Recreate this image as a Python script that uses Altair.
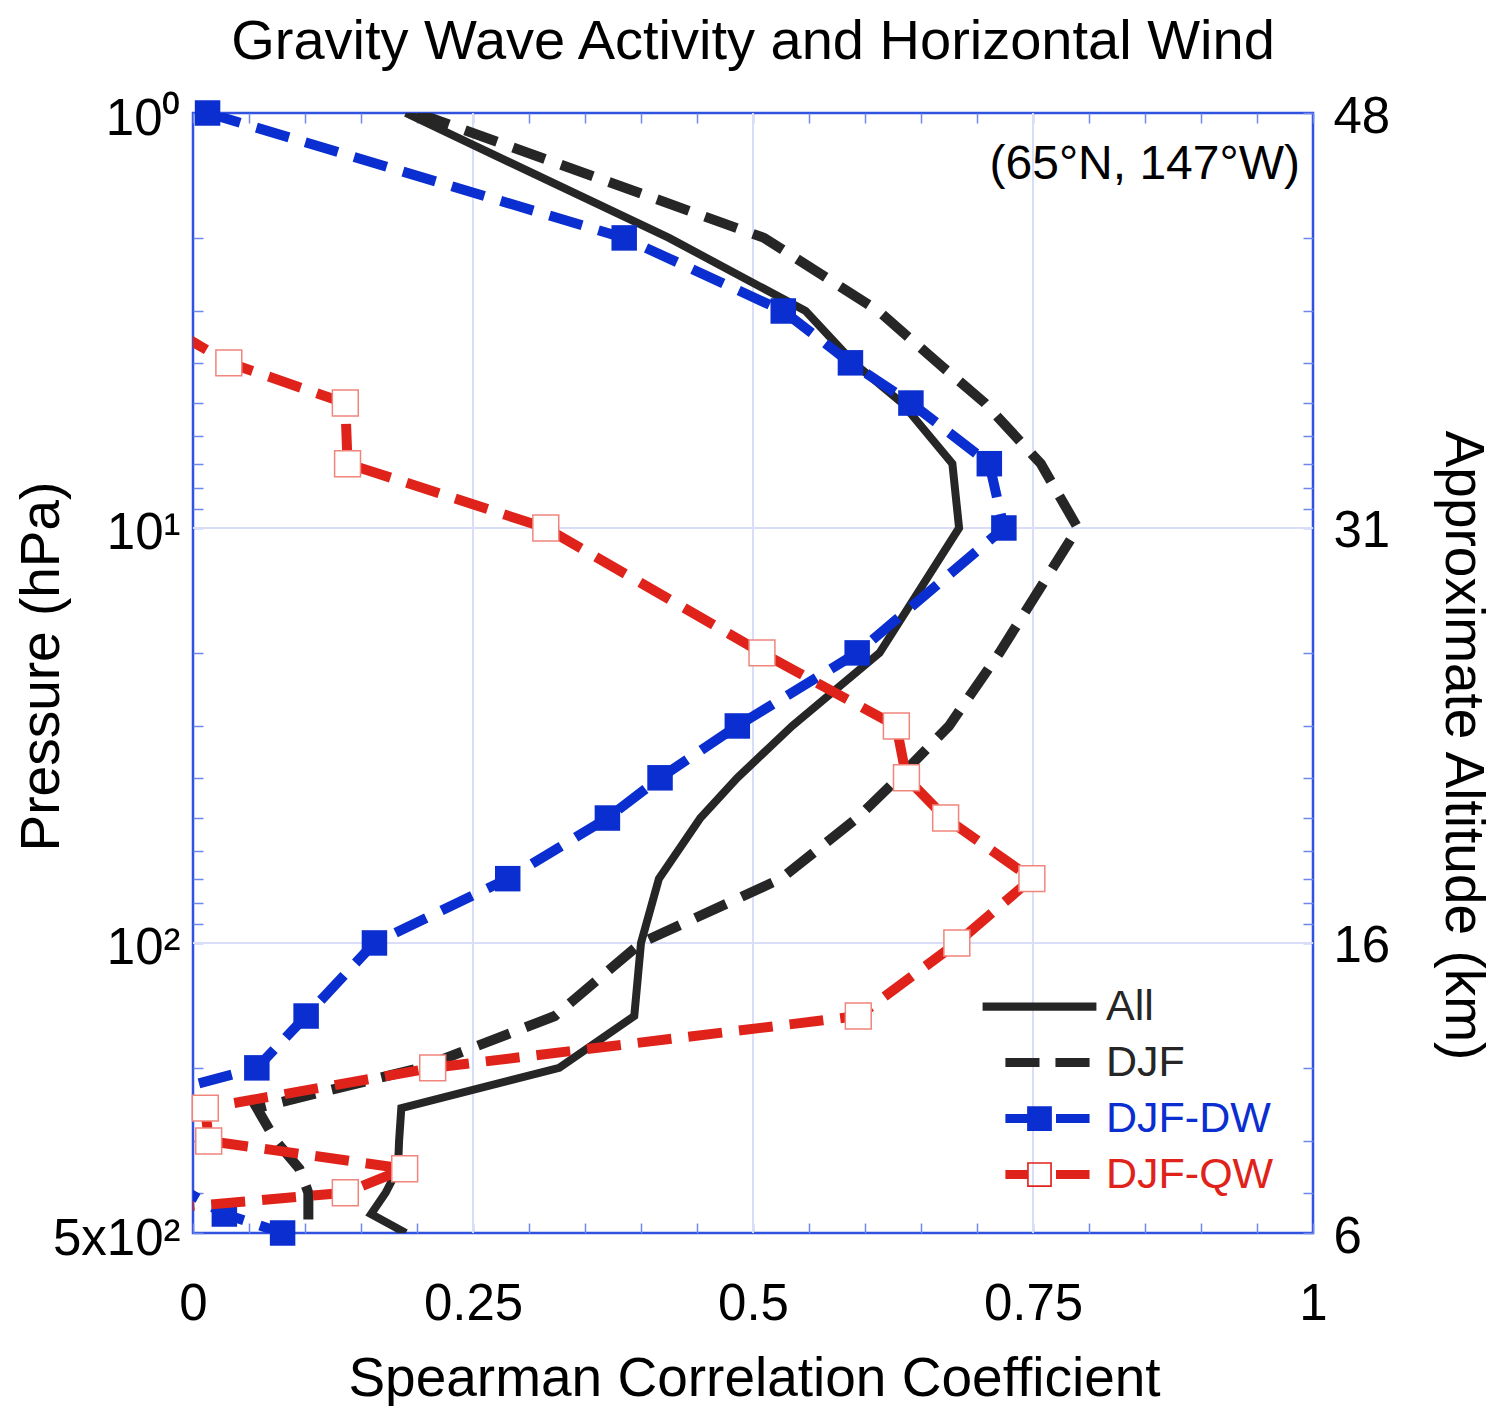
import altair as alt
import pandas as pd

# pressure levels (hPa) and Spearman coefficients
pressure = [1, 2, 3, 4, 5, 7, 10, 20, 30, 40, 50, 70, 100, 150, 200, 250, 300, 350, 400, 450, 500]
r_all = [0.19, 0.425, 0.547, 0.59, 0.633, 0.678, 0.684, 0.613, 0.535, 0.486, 0.453, 0.416, 0.40,
         0.394, 0.327, 0.186, 0.184, 0.183, 0.172, 0.159, 0.19]
r_djf = [0.20, 0.51, 0.612, 0.665, 0.707, 0.757, 0.79, 0.72, 0.675, 0.63, 0.593, 0.525, 0.40,
         0.323, 0.203, 0.057, 0.074, 0.095, 0.103, 0.103, 0.103]
r_djf_dw = [0.013, 0.385, 0.527, 0.587, 0.641, 0.711, 0.724, 0.593, 0.486, 0.417, 0.37, 0.281, 0.162,
            0.101, 0.057, -0.077, -0.12, -0.08, -0.004, 0.028, 0.08]
r_djf_qw = [-0.2, -0.12, -0.047, 0.032, 0.136, 0.138, 0.315, 0.508, 0.628, 0.637, 0.672, 0.749, 0.682,
            0.594, 0.214, 0.011, 0.014, 0.189, 0.136, -0.083, -0.05]

series_names = ["All", "DJF", "DJF-DW", "DJF-QW"]

x_ticks = [i / 20 for i in range(21)]
x_major = [0, 0.25, 0.5, 0.75, 1]
x_major_text = ["0", "0.25", "0.5", "0.75", "1"]
y_ticks = [1, 2, 3, 4, 5, 6, 7, 8, 9, 10, 20, 30, 40, 50, 60, 70, 80, 90, 100, 200, 300, 400, 500]
y_major = [1, 10, 100, 500]
y_major_text = ["10⁰", "10¹", "10²", "5x10²"]
altitude_text = ["48", "31", "16", "6"]
x_grid = [0.25, 0.5, 0.75]
y_grid = [10, 100]

BLACK = "#262626"
BLUE = "#0a2ecf"
RED = "#e0231a"
RED_EDGE = "#f0857c"
FRAME = "#2f52e0"
GRID = "#d9ddf7"
TICK = "#6f86ea"
FONT = "Liberation Sans"

rows = []
for name, vals in zip(series_names, [r_all, r_djf, r_djf_dw, r_djf_qw]):
    for p, r in zip(pressure, vals):
        rows.append({"series": name, "pressure": p, "r": r})
df = pd.DataFrame(rows)


def label_expr(values, texts):
    parts = ["datum.value == %s ? '%s'" % (v, t) for v, t in zip(values, texts)]
    return " : ".join(parts) + " : ''"


x_scale = alt.Scale(domain=[0, 1], nice=False, zero=False)
y_scale = alt.Scale(type="log", domain=[1, 500], nice=False, reverse=True)
inward = alt.ExprRef(expr="-10")

common_axis = dict(domain=False, grid=False, tickSize=inward, tickColor=TICK, tickWidth=1.5,
                   labelFont=FONT, labelFontSize=51, labelColor="black", labelOverlap=False,
                   titleFont=FONT, titleFontSize=55, titleColor="black", titleFontWeight="normal",
                   titleBaseline="alphabetic")

bottom_axis = alt.Axis(orient="bottom", values=x_ticks, labelExpr=label_expr(x_major, x_major_text),
                       labelFlush=False, labelPadding=56, title="Spearman Correlation Coefficient",
                       titleX=561, titleY=162, **common_axis)
left_axis = alt.Axis(orient="left", values=y_ticks, labelExpr=label_expr(y_major, y_major_text),
                     labelPadding=23, labelOffset=6, title="Pressure (hPa)", titleAngle=270,
                     titleX=-135, titleY=553, **common_axis)
top_axis = alt.Axis(orient="top", values=x_ticks, labels=False, title=None, domain=False, grid=False,
                    tickSize=inward, tickColor=TICK, tickWidth=1.5)
right_axis = alt.Axis(orient="right", values=y_ticks, labelExpr=label_expr(y_major, altitude_text),
                      labelPadding=30, labelOffset=4, title="Approximate Altitude (km)", titleAngle=90,
                      titleX=132, titleY=632, **common_axis)

# grid lines + top/right axes (independent scales with identical domains)
vgrid = alt.Chart(pd.DataFrame({"xg": x_grid})).mark_rule(color=GRID, strokeWidth=2).encode(
    x=alt.X("xg:Q", scale=x_scale, axis=top_axis))
hgrid = alt.Chart(pd.DataFrame({"pg": y_grid})).mark_rule(color=GRID, strokeWidth=2).encode(
    y=alt.Y("pg:Q", scale=y_scale, axis=right_axis))
frame_layer = alt.layer(vgrid, hgrid)

base = alt.Chart(df).encode(
    x=alt.X("r:Q", scale=x_scale, axis=bottom_axis),
    y=alt.Y("pressure:Q", scale=y_scale, axis=left_axis),
    order=alt.Order("pressure:Q"),
)


def line(name, color, width, dash=None):
    kw = dict(color=color, strokeWidth=width, clip=True)
    if dash:
        kw["strokeDash"] = dash
    return base.transform_filter(alt.datum.series == name).mark_line(**kw)


dash = [34, 17]
l_djf = line("DJF", BLACK, 10, dash)
l_all = line("All", BLACK, 8)
l_dw = line("DJF-DW", BLUE, 10, dash)
l_qw = line("DJF-QW", RED, 10, dash)

p_dw = base.transform_filter((alt.datum.series == "DJF-DW") & (alt.datum.r >= 0)).mark_point(
    shape="square", size=650, filled=True, color=BLUE, opacity=1)
p_qw = base.transform_filter((alt.datum.series == "DJF-QW") & (alt.datum.r >= 0)).mark_point(
    shape="square", size=670, filled=True, fill="white", stroke=RED_EDGE, strokeWidth=1.5, opacity=1)

# legend symbols: line segment(s) with optional square marker
legend_paths = [
    "M-2.07,-0.15H2.07V0.15H-2.07Z",
    "M-1.24,-0.16H0V0.16H-1.24Z M0.58,-0.16H1.82V0.16H0.58Z",
    "M-1.24,-0.16H-0.45V0.16H-1.24Z M-0.45,-0.45H0.45V0.45H-0.45Z M0.6,-0.16H1.82V0.16H0.6Z",
    "M-1.24,-0.16H-0.45V0.16H-1.24Z M-0.45,-0.45H0.45V0.45H-0.45Z M-0.39,-0.39V0.39H0.39V-0.39Z "
    "M0.6,-0.16H1.82V0.16H0.6Z",
]
legend_fills = [BLACK, BLACK, BLUE, RED]
legend_label_color = ("datum.value == 'DJF-DW' ? '%s' : datum.value == 'DJF-QW' ? '%s' : '%s'"
                      % (BLUE, RED, BLACK))

legend_layer = alt.Chart(pd.DataFrame({"series": series_names})).mark_point(
    filled=True, opacity=0, size=3025, strokeWidth=0).encode(
    shape=alt.Shape("series:N", scale=alt.Scale(domain=series_names, range=legend_paths),
                    legend=alt.Legend(title=None, orient="none", legendX=819, legendY=866,
                                      labelFont=FONT, labelFontSize=43,
                                      labelColor=alt.ExprRef(expr=legend_label_color),
                                      symbolOpacity=1, symbolSize=3025, symbolStrokeWidth=0,
                                      labelOffset=39, rowPadding=6, padding=0, labelLimit=400)),
    fill=alt.Fill("series:N", scale=alt.Scale(domain=series_names, range=legend_fills)),
)

note = alt.Chart(pd.DataFrame({"t": ["(65°N, 147°W)"]})).mark_text(
    align="right", baseline="alphabetic", font=FONT, fontSize=48, color="black").encode(
    text="t:N", x=alt.value(1107), y=alt.value(66))

data_layer = alt.layer(l_djf, l_all, l_dw, p_dw, l_qw, p_qw, legend_layer, note)

chart = alt.layer(frame_layer, data_layer).resolve_scale(
    x="independent", y="independent"
).properties(
    width=1120,
    height=1120,
    title=alt.TitleParams("Gravity Wave Activity and Horizontal Wind", font=FONT, fontSize=56,
                          fontWeight="normal", color="black", anchor="middle", frame="group",
                          baseline="bottom", offset=20, dy=56),
    padding={"left": 185, "top": 105, "right": 181, "bottom": 173},
    autosize=alt.AutoSizeParams(type="none"),
    background="white",
).configure_view(stroke=FRAME, strokeWidth=2.5)

chart.save("out.html", embed_options={"renderer": "svg", "actions": False})
